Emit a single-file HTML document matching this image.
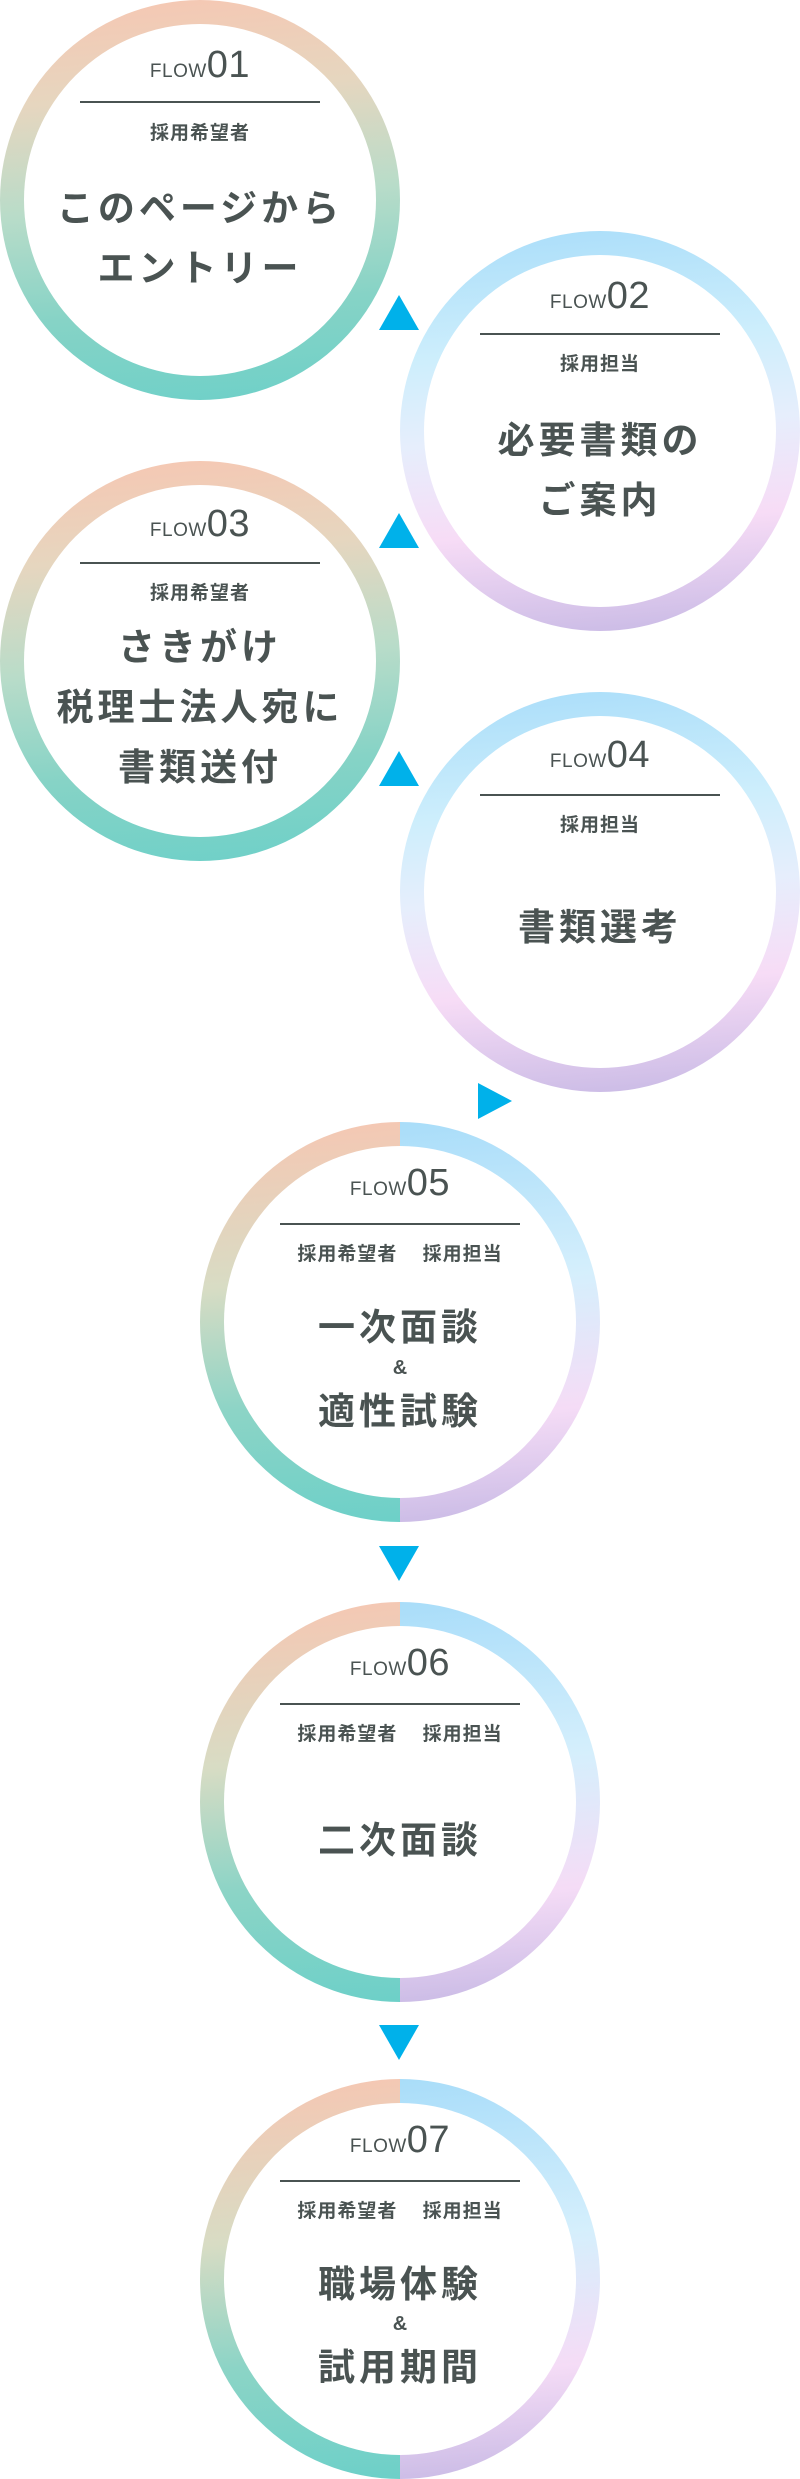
<!DOCTYPE html>
<html><head><meta charset="utf-8"><style>
*{margin:0;padding:0;box-sizing:border-box}
body{width:800px;height:2479px;background:#fff;position:relative;overflow:hidden;font-family:"Liberation Sans","Noto Sans CJK JP",sans-serif;color:#4a5352}
.c{position:absolute;width:400px;height:400px;border-radius:50%}
.c::after{content:"";position:absolute;left:24px;top:24px;right:24px;bottom:24px;border-radius:50%;background:#fff}
.a{background:linear-gradient(175deg,#f7c6b2 0%,#e6d6bf 25%,#b9dcc9 50%,#86d3c6 75%,#6dd0c8 100%)}
.b{background:linear-gradient(175deg,#a9ddf9 0%,#cdeefc 30%,#e6eefc 50%,#f7dcf6 72%,#c6b8e4 100%)}
.m{background:linear-gradient(175deg,#f7c6b2,#d8dcc4 40%,#8cd4c6 70%,#6dd0c8) left/50% 100% no-repeat,linear-gradient(175deg,#a9ddf9,#d5effc 40%,#f5dcf6 72%,#c6b8e4) right/50% 100% no-repeat}
.t{position:absolute;left:0;width:400px;text-align:center;z-index:2}
.flow{font-size:19px;font-weight:300;letter-spacing:0.5px}
.flow b{font-size:38px;font-weight:300}
.ln{position:absolute;left:80px;width:240px;height:2px;background:#4a5352;z-index:2}
.lab{font-size:19px;font-weight:bold;letter-spacing:1px;font-family:"Noto Sans CJK JP",sans-serif}
.main{font-size:37px;font-weight:bold;letter-spacing:4px;line-height:60px;font-family:"Noto Sans CJK JP",sans-serif}
.amp{font-size:20px;font-weight:bold}
.tri{position:absolute;width:0;height:0}
.up{border-left:20px solid transparent;border-right:20px solid transparent;border-bottom:35px solid #00b1ea}
.dn{border-left:20px solid transparent;border-right:20px solid transparent;border-top:35px solid #00b1ea}
.rt{border-top:18px solid transparent;border-bottom:18px solid transparent;border-left:34px solid #00b1ea}
</style></head><body>

<div class="c a" style="left:0;top:0"></div>
<div class="t flow" style="top:44px;left:0">FLOW<b>01</b></div>
<div class="ln" style="top:101px;left:80px"></div>
<div class="t lab" style="top:118px;left:0">採用希望者</div>
<div class="t main" style="top:175px;left:0">このページから<br>エントリー</div>

<div class="c b" style="left:400px;top:231px"></div>
<div class="t flow" style="top:275px;left:400px">FLOW<b>02</b></div>
<div class="ln" style="top:333px;left:480px"></div>
<div class="t lab" style="top:349px;left:400px">採用担当</div>
<div class="t main" style="top:407px;left:400px">必要書類の<br>ご案内</div>

<div class="c a" style="left:0;top:461px"></div>
<div class="t flow" style="top:503px;left:0">FLOW<b>03</b></div>
<div class="ln" style="top:562px;left:80px"></div>
<div class="t lab" style="top:578px;left:0">採用希望者</div>
<div class="t main" style="top:614px;left:0">さきがけ<br>税理士法人宛に<br>書類送付</div>

<div class="c b" style="left:400px;top:692px"></div>
<div class="t flow" style="top:734px;left:400px">FLOW<b>04</b></div>
<div class="ln" style="top:794px;left:480px"></div>
<div class="t lab" style="top:810px;left:400px">採用担当</div>
<div class="t main" style="top:894px;left:400px">書類選考</div>

<div class="tri up" style="left:379px;top:295px"></div>
<div class="tri up" style="left:379px;top:513px"></div>
<div class="tri up" style="left:379px;top:751px"></div>
<div class="tri rt" style="left:478px;top:1083px"></div>
<div class="tri dn" style="left:379px;top:1546px"></div>
<div class="tri dn" style="left:379px;top:2025px"></div>

<div class="c m" style="left:200px;top:1122px"></div>
<div class="t flow" style="top:1162px;left:200px">FLOW<b>05</b></div>
<div class="ln" style="top:1223px;left:280px"></div>
<div class="t lab" style="top:1239px;left:200px">採用希望者　 採用担当</div>
<div class="t main" style="top:1294px;left:200px">一次面談</div>
<div class="t amp" style="top:1357px;left:200px">&amp;</div>
<div class="t main" style="top:1378px;left:200px">適性試験</div>

<div class="c m" style="left:200px;top:1602px"></div>
<div class="t flow" style="top:1642px;left:200px">FLOW<b>06</b></div>
<div class="ln" style="top:1703px;left:280px"></div>
<div class="t lab" style="top:1719px;left:200px">採用希望者　 採用担当</div>
<div class="t main" style="top:1807px;left:200px">二次面談</div>

<div class="c m" style="left:200px;top:2079px"></div>
<div class="t flow" style="top:2119px;left:200px">FLOW<b>07</b></div>
<div class="ln" style="top:2180px;left:280px"></div>
<div class="t lab" style="top:2196px;left:200px">採用希望者　 採用担当</div>
<div class="t main" style="top:2251px;left:200px">職場体験</div>
<div class="t amp" style="top:2313px;left:200px">&amp;</div>
<div class="t main" style="top:2334px;left:200px">試用期間</div>

</body></html>
